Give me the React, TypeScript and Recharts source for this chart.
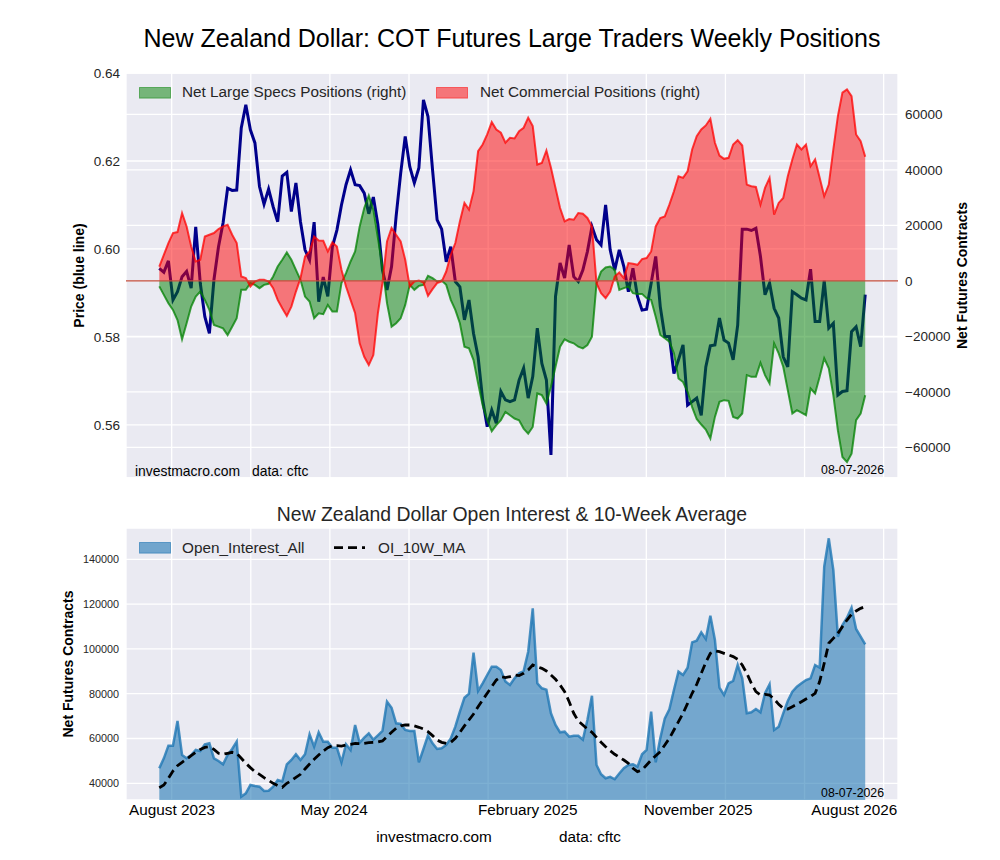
import React from 'react';
import {
  ComposedChart,
  Line,
  Area,
  XAxis,
  YAxis,
  CartesianGrid,
  ReferenceLine,
  Legend,
  Label,
} from 'recharts';

// ---------- data (weekly observations, index 0 = first week) ----------
const priceValues = [
  0.5956, 0.5947, 0.5973, 0.5884, 0.5903, 0.5937, 0.5949, 0.5911, 0.605, 0.5922,
  0.5846, 0.5808, 0.593, 0.6005, 0.6059, 0.6138, 0.6133, 0.6134, 0.6275, 0.6328,
  0.6271, 0.6241, 0.6142, 0.6102, 0.6136, 0.6096, 0.6062, 0.6166, 0.6174, 0.6085,
  0.615, 0.6062, 0.5998, 0.5975, 0.6061, 0.588, 0.5936, 0.5892, 0.6005, 0.6043,
  0.61, 0.6146, 0.618, 0.6146, 0.6144, 0.6127, 0.608, 0.6118, 0.6055, 0.5952,
  0.5907, 0.596, 0.6074, 0.6172, 0.6256, 0.6187, 0.615, 0.6184, 0.6339, 0.6301,
  0.618, 0.6066, 0.6045, 0.5971, 0.6005, 0.5926, 0.5914, 0.5839, 0.5884, 0.5808,
  0.5755, 0.5657, 0.5596, 0.5634, 0.5604, 0.5676, 0.5657, 0.5653, 0.5657, 0.5702,
  0.5729, 0.5661, 0.571, 0.582, 0.574, 0.5702, 0.5532, 0.5892, 0.5968, 0.5934,
  0.6009, 0.5937, 0.5926, 0.5952, 0.5994, 0.6051, 0.6021, 0.6009, 0.61, 0.5998,
  0.5952, 0.5998, 0.596, 0.5903, 0.5956, 0.5892, 0.5861, 0.5863, 0.5922, 0.5983,
  0.5869, 0.5801, 0.5801, 0.5717, 0.5748, 0.5782, 0.5645, 0.5653, 0.5661, 0.5622,
  0.5732, 0.578, 0.5782, 0.5843, 0.5793, 0.5786, 0.5748, 0.5827, 0.6045, 0.6045,
  0.6042, 0.6047, 0.5983, 0.5896, 0.5922, 0.5865, 0.5843, 0.5755, 0.5732, 0.5903,
  0.5896, 0.5888, 0.5884, 0.5954, 0.5835, 0.5835, 0.5928, 0.582, 0.5831, 0.5668,
  0.5676, 0.5678, 0.5812, 0.5823, 0.5778, 0.5896,
];

const largeSpecsValues = [
  -2000, -5060, -8060, -10480, -14100, -21080, -15300, -9280, -5670, -3860,
  -6870, -10480, -15900, -16520, -17110, -19520, -16520, -13490, -3250, -3250,
  -830, -1450, -2640, -1450, -1080, 1560, 5170, 7590, 10230, 7590,
  3980, 360, -5670, -7480, -13490, -11680, -12000, -8680, -11090, -11090,
  -830, 2780, 6980, 10600, 19630, 26280, 30730, 25670, 15440, 5170,
  -8060, -16520, -15300, -13490, -8680, -1450, -3250, -1810, -1450, 1810,
  980, -250, 110, -1450, -6870, -10480, -15300, -23740, -24330, -28560,
  -36980, -44830, -50250, -54200, -52000, -50250, -47240, -48440, -49640, -50250,
  -53250, -55060, -52670, -40600, -41210, -44210, -38210, -30980, -23750, -21080,
  -21940, -22520, -23750, -24330, -23140, -20130, -1000, 3360, 4810, 5170,
  3980, -3250, -2640, -2060, -4450, -4700, -4700, -6250, -6870, -12900,
  -19520, -20710, -21940, -26140, -35170, -36500, -40000, -45500, -49800, -51800,
  -53600, -56860, -49050, -43630, -43020, -43270, -49050, -49640, -47830, -33980,
  -34600, -34600, -29530, -33980, -36980, -22530, -26140, -30980, -39400, -47830,
  -46630, -47500, -48440, -38800, -40600, -34600, -27950, -31560, -41210, -53860,
  -63500, -65330, -62290, -50250, -47830, -41210,
];

const commercialValues = [
  5170, 9400, 13630, 17240, 17600, 24470, 19630, 12400, 6980, 7590,
  16010, 16630, 17240, 18690, 19630, 20240, 16630, 13630, 1560, 980,
  -2060, -250, 360, 360, -250, -2640, -6870, -9870, -12650, -9280,
  -3860, 980, 8790, 10600, 16010, 14570, 14450, 10600, 13850, 12400,
  3980, -2060, -6870, -11680, -22520, -27360, -30370, -26750, -11680, -830,
  14210, 19050, 16630, 14210, 7590, -2060, -250, 110, -610, -5420,
  -3000, -830, -250, 3360, 9400, 13630, 21440, 28090, 25670, 32280,
  46740, 49160, 52780, 57230, 54590, 53390, 49780, 51590, 51330, 53970,
  55200, 58820, 55780, 41930, 42540, 46990, 40740, 33510, 26280, 21440,
  22300, 22050, 24470, 24220, 22670, 19630, -830, -4450, -6250, -3860,
  1560, 3010, 980, 6400, 6150, 5780, 7850, 8210, 10600, 19630,
  22670, 23250, 27470, 32280, 37700, 37130, 39510, 47360, 52170, 54590,
  56030, 58450, 49780, 45190, 43990, 44360, 49160, 50720, 48800, 34700,
  34100, 33870, 27470, 33510, 37130, 23860, 28090, 29900, 37700, 43740,
  49160, 47360, 49160, 41320, 43740, 37130, 30480, 34700, 47360, 59400,
  67850, 69050, 66620, 52780, 50360, 44720,
];

const openInterestValues = [
  46700, 51160, 56790, 56790, 67800, 52630, 51160, 52630, 54870, 54420,
  57410, 57860, 51160, 49950, 48480, 52630, 55310, 58570, 34020, 35540,
  39240, 38800, 38500, 36570, 36700, 38500, 41470, 40800, 48480, 50400,
  52950, 50400, 52950, 61870, 56340, 62770, 58570, 58570, 55890, 55890,
  49380, 57410, 54870, 66030, 58120, 60360, 62320, 59460, 61420, 63350,
  76430, 73750, 66780, 66490, 63800, 63350, 63350, 49380, 55310, 61420,
  57860, 55310, 55600, 57110, 60060, 65270, 71960, 78210, 80000, 98300,
  81200, 84630, 88350, 92050, 92050, 90560, 85500, 83900, 86870, 89100,
  90130, 98750, 118120, 84640, 82410, 81800, 71250, 66030, 62770, 63050,
  60800, 61200, 61200, 59460, 68260, 79100, 48170, 44020, 42230, 42900,
  41800, 44400, 46700, 48200, 48500, 47400, 52950, 54870, 71960, 49380,
  60060, 69000, 73030, 81650, 89820, 88350, 91600, 102940, 103670, 107400,
  104420, 114820, 103970, 82680, 79420, 84640, 85690, 92810, 86870, 71250,
  71700, 73180, 71700, 80180, 84190, 63800, 65290, 71250, 76740, 80910,
  83140, 84640, 86110, 86870, 92810, 91600, 136690, 149370, 135220, 105440,
  110670, 113930, 118390, 108880, 105440, 102050,
];

const oiMovingAvgValues = [
  38040, 39240, 42230, 45490, 47860, 49380, 50800, 52300, 53840, 55150,
  56050, 56340, 55150, 53400, 52950, 53400, 53840, 53400, 51160, 48930,
  47000, 45200, 44020, 42500, 41320, 40000, 38950, 38190, 40000, 41180,
  42670, 44020, 46400, 48630, 50700, 52630, 54420, 55890, 56790, 56790,
  56640, 57110, 57410, 57860, 57710, 57860, 58150, 58300, 58450, 58900,
  60800, 62770, 64560, 65600, 66030, 66030, 65600, 65000, 64260, 63050,
  61270, 59310, 58300, 57860, 58300, 60060, 62770, 65600, 68260, 70940,
  74200, 77190, 80180, 83140, 86110, 87600, 87150, 87600, 88350, 88050,
  89100, 90580, 92810, 92050, 91300, 90130, 88350, 86420, 83900, 80910,
  76430, 71250, 67800, 66030, 64260, 62770, 60500, 58300, 56340, 54570,
  52950, 51600, 50400, 48930, 46700, 45200, 45960, 48170, 50400, 52330,
  54120, 57110, 60060, 63800, 67510, 71250, 75680, 80180, 84190, 89100,
  94000, 98000, 99060, 98750, 98000, 97300, 96560, 95370, 92810, 89100,
  84640, 80910, 79420, 79720, 79420, 77640, 75260, 73470, 73180, 74200,
  75260, 76430, 77640, 78700, 80180, 85390, 93600, 102500, 104720, 106960,
  109930, 112900, 115430, 116920, 118100, 118860,
];

// tick values / labels
const priceTicks = [0.56, 0.58, 0.6, 0.62, 0.64];
const positionTicks = [-60000, -40000, -20000, 0, 20000, 40000, 60000];
const oiTicks = [40000, 60000, 80000, 100000, 120000, 140000];
const gridWeeks = [2.72, 20.09, 37.46, 54.83, 72.2, 89.57, 106.94, 124.31, 141.68, 159.05];
const dateTickWeeks = [2.8, 38.4, 80.9, 118.3, 152.6];
const dateTickLabels = ['August 2023', 'May 2024', 'February 2025', 'November 2025', 'August 2026'];

const weeks = priceValues.map((_, i) => i);

const topData = weeks.map((w, i) => ({
  week: w,
  price: priceValues[i],
  specs: largeSpecsValues[i],
  comm: commercialValues[i],
}));

const bottomData = weeks.map((w, i) => ({
  week: w,
  oi: openInterestValues[i],
  ma: oiMovingAvgValues[i],
}));

const FONT = '"Liberation Sans", Arial, Helvetica, sans-serif';
const TXT = '#262626';
const BG = '#EAEAF2';
const X_DOMAIN: [number, number] = [-7.31, 162.2];

const fmtSigned = (v: number) => (v < 0 ? '\u2212' + Math.abs(v) : String(v));
const dateLabelOf = (v: number) => {
  const i = dateTickWeeks.indexOf(v);
  return i >= 0 ? dateTickLabels[i] : '';
};

const Patch = ({ color, opacity }: { color: string; opacity: number }) => (
  <svg width={32} height={12} style={{ display: 'block' }}>
    <rect x={0.5} y={0.5} width={31} height={10.6} fill={color} fillOpacity={opacity} stroke={color} strokeOpacity={opacity} strokeWidth={1} />
  </svg>
);

const legendText: React.CSSProperties = {
  position: 'absolute',
  fontFamily: FONT,
  fontSize: 15.3,
  color: TXT,
  whiteSpace: 'nowrap',
  lineHeight: '18px',
};

const TopLegend = () => (
  <div style={{ position: 'relative', width: 0, height: 0 }}>
    <div style={{ position: 'absolute', left: 139, top: 86.5 }}>
      <Patch color="green" opacity={0.5} />
    </div>
    <div style={{ ...legendText, left: 182, top: 83 }}>Net Large Specs Positions (right)</div>
    <div style={{ position: 'absolute', left: 436, top: 86.5 }}>
      <Patch color="red" opacity={0.5} />
    </div>
    <div style={{ ...legendText, left: 480, top: 83 }}>Net Commercial Positions (right)</div>
  </div>
);

const BottomLegend = () => (
  <div style={{ position: 'relative', width: 0, height: 0 }}>
    <div style={{ position: 'absolute', left: 139, top: 42 }}>
      <Patch color="#1f77b4" opacity={0.6} />
    </div>
    <div style={{ ...legendText, left: 182, top: 38.5 }}>Open_Interest_All</div>
    <svg style={{ position: 'absolute', left: 334, top: 42 }} width={32} height={12}>
      <line x1={0} y1={5.7} x2={31} y2={5.7} stroke="#000" strokeWidth={2.8} strokeDasharray="9 5" />
    </svg>
    <div style={{ ...legendText, left: 378, top: 38.5 }}>OI_10W_MA</div>
  </div>
);

const rotatedLabel = (text: string, dx: number) => (props: any) => {
  const vb = props.viewBox || {};
  const cx = (vb.x || 0) + dx;
  const cy = (vb.y || 0) + (vb.height || 0) / 2;
  return (
    <text
      x={cx}
      y={cy}
      transform={`rotate(-90 ${cx} ${cy})`}
      textAnchor="middle"
      dominantBaseline="central"
      fontFamily={FONT}
      fontSize={14}
      fontWeight="bold"
      fill="#000"
    >
      {text}
    </text>
  );
};

const tickStyle = { fontSize: 13.5, fill: TXT, fontFamily: FONT };

export default function App() {
  return (
    <div style={{ position: 'absolute', left: 0, top: 0, width: 1000, height: 860, background: '#fff' }}>
      {/* Top panel */}
      <div style={{ position: 'absolute', left: 0, top: 0 }}>
        <ComposedChart width={1000} height={490} data={topData} margin={{ top: 73, right: 0, bottom: 12, left: 0 }}>
          <CartesianGrid xAxisId="x" yAxisId="left" fill={BG} fillOpacity={1} stroke="#fff" strokeWidth={1.3} />
          <CartesianGrid xAxisId="x" yAxisId="right" vertical={false} stroke="#fff" strokeWidth={1.3} />
          <XAxis xAxisId="x" dataKey="week" type="number" domain={X_DOMAIN} ticks={gridWeeks} allowDataOverflow hide />
          <YAxis
            yAxisId="left"
            orientation="left"
            width={126}
            type="number"
            domain={[0.54794, 0.64]}
            ticks={priceTicks}
            allowDataOverflow
            axisLine={false}
            tickLine={false}
            tickSize={0}
            tickMargin={6}
            tick={tickStyle}
            tickFormatter={(v: number) => v.toFixed(2)}
          >
            <Label content={rotatedLabel('Price (blue line)', 79)} />
          </YAxis>
          <YAxis
            yAxisId="right"
            orientation="right"
            width={102}
            type="number"
            domain={[-71076, 74937]}
            ticks={positionTicks}
            allowDataOverflow
            axisLine={false}
            tickLine={false}
            tickSize={0}
            tickMargin={7}
            tick={tickStyle}
            tickFormatter={fmtSigned}
          >
            <Label content={rotatedLabel('Net Futures Contracts', 64)} />
          </YAxis>
          <Line
            xAxisId="x"
            yAxisId="left"
            dataKey="price"
            type="linear"
            stroke="#00008B"
            strokeWidth={3}
            dot={false}
            activeDot={false}
            isAnimationActive={false}
            zIndex={50}
          />
          <Area
            xAxisId="x"
            yAxisId="right"
            dataKey="specs"
            type="linear"
            baseValue={0}
            fill="green"
            fillOpacity={0.5}
            stroke="green"
            strokeOpacity={0.75}
            strokeWidth={2}
            dot={false}
            activeDot={false}
            isAnimationActive={false}
          />
          <Area
            xAxisId="x"
            yAxisId="right"
            dataKey="comm"
            type="linear"
            baseValue={0}
            fill="red"
            fillOpacity={0.5}
            stroke="red"
            strokeOpacity={0.75}
            strokeWidth={2}
            dot={false}
            activeDot={false}
            isAnimationActive={false}
          />
          <ReferenceLine xAxisId="x" yAxisId="right" y={0} stroke="#c04a3a" strokeWidth={1.1} />
          <Legend
            layout="vertical"
            align="center"
            verticalAlign="middle"
            wrapperStyle={{ left: 0, top: 0, width: 0, height: 0 }}
            content={() => <TopLegend />}
          />
        </ComposedChart>
      </div>

      {/* Bottom panel */}
      <div style={{ position: 'absolute', left: 0, top: 500 }}>
        <ComposedChart width={1000} height={350} data={bottomData} margin={{ top: 28, right: 102, bottom: 20, left: 0 }}>
          <CartesianGrid xAxisId="grid" yAxisId="oi" fill={BG} fillOpacity={1} stroke="#fff" strokeWidth={1.3} />
          <XAxis xAxisId="grid" dataKey="week" type="number" domain={X_DOMAIN} ticks={gridWeeks} allowDataOverflow hide />
          <XAxis
            xAxisId="dates"
            dataKey="week"
            type="number"
            domain={X_DOMAIN}
            ticks={dateTickWeeks}
            interval={0}
            allowDataOverflow
            height={30}
            axisLine={false}
            tickLine={false}
            tickSize={0}
            tickMargin={4}
            tick={{ fontSize: 15.3, fill: '#000', fontFamily: FONT }}
            tickFormatter={dateLabelOf}
          />
          <YAxis
            yAxisId="oi"
            orientation="left"
            width={126}
            type="number"
            domain={[32545, 153970]}
            ticks={oiTicks}
            allowDataOverflow
            axisLine={false}
            tickLine={false}
            tickSize={0}
            tickMargin={7}
            tick={{ fontSize: 10.8, fill: TXT, fontFamily: FONT }}
          >
            <Label content={rotatedLabel('Net Futures Contracts', 68)} />
          </YAxis>
          <Area
            xAxisId="grid"
            yAxisId="oi"
            dataKey="oi"
            type="linear"
            fill="#1f77b4"
            fillOpacity={0.58}
            stroke="#1f77b4"
            strokeOpacity={0.8}
            strokeWidth={2.5}
            dot={false}
            activeDot={false}
            isAnimationActive={false}
          />
          <Line
            xAxisId="grid"
            yAxisId="oi"
            dataKey="ma"
            type="linear"
            stroke="#000"
            strokeWidth={2.8}
            strokeDasharray="9 5"
            dot={false}
            activeDot={false}
            isAnimationActive={false}
          />
          <Legend
            layout="vertical"
            align="center"
            verticalAlign="middle"
            wrapperStyle={{ left: 0, top: 0, width: 0, height: 0 }}
            content={() => <BottomLegend />}
          />
        </ComposedChart>
      </div>

      {/* titles and notes */}
      <svg width={1000} height={860} style={{ position: 'absolute', left: 0, top: 0, pointerEvents: 'none' }}>
        <text x={512} y={38} textAnchor="middle" dominantBaseline="central" fontFamily={FONT} fontSize={25} fill="#000">
          New Zealand Dollar: COT Futures Large Traders Weekly Positions
        </text>
        <text x={135} y={470.5} dominantBaseline="central" fontFamily={FONT} fontSize={13.9} fill="#000">
          investmacro.com
        </text>
        <text x={252} y={470.5} dominantBaseline="central" fontFamily={FONT} fontSize={13.9} fill="#000">
          data: cftc
        </text>
        <text x={884} y={470} textAnchor="end" dominantBaseline="central" fontFamily={FONT} fontSize={12.3} fill="#000">
          08-07-2026
        </text>
        <text x={512} y={513.5} textAnchor="middle" dominantBaseline="central" fontFamily={FONT} fontSize={19.4} fill={TXT}>
          New Zealand Dollar Open Interest &amp; 10-Week Average
        </text>
        <text x={884} y={793} textAnchor="end" dominantBaseline="central" fontFamily={FONT} fontSize={12.3} fill="#000">
          08-07-2026
        </text>
        <text x={434} y={836.5} textAnchor="middle" dominantBaseline="central" fontFamily={FONT} fontSize={15.3} fill="#000">
          investmacro.com
        </text>
        <text x={590} y={836.5} textAnchor="middle" dominantBaseline="central" fontFamily={FONT} fontSize={15.3} fill="#000">
          data: cftc
        </text>
      </svg>
    </div>
  );
}
